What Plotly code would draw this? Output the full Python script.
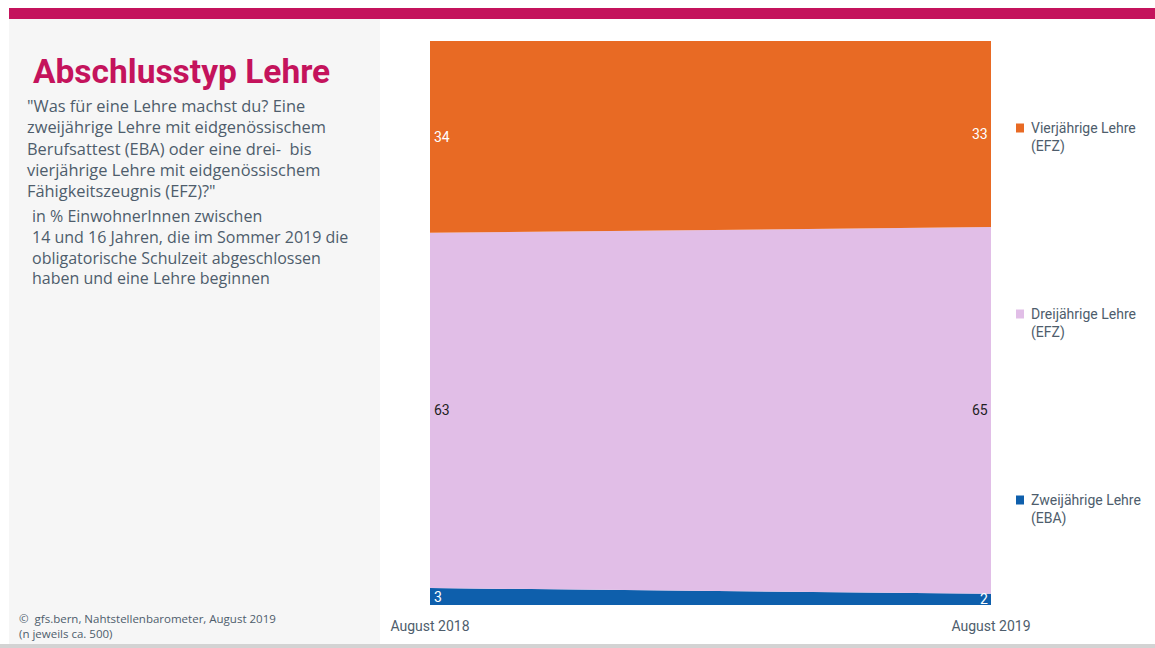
import plotly.graph_objects as go

# Survey waves and shares (in %)
waves = ["August 2018", "August 2019"]
series_names = ["Zweijährige Lehre<br>(EBA)", "Dreijährige Lehre<br>(EFZ)", "Vierjährige Lehre<br>(EFZ)"]
eba = [3, 2]
efz3 = [63, 65]
efz4 = [34, 33]
series_values = [eba, efz3, efz4]
series_colors = ["#0E5FAC", "#E1BEE7", "#E86A24"]
label_colors = ["#FFFFFF", "#1F1F1F", "#FFFFFF"]

W, H = 1155, 648
PL, PR, PT, PB = 430, 991, 41, 605  # plot area in pixels
TEXT = "#4E5D6C"
MAGENTA = "#C4135C"
FONT = "Roboto, 'Noto Sans', sans-serif"
BODY = "'Open Sans', 'Noto Sans', sans-serif"


def px(x):
    return (x - PL) / (PR - PL)


def py(y):
    return (PB - y) / (PB - PT)


fig = go.Figure()
for name, vals, col in zip(series_names, series_values, series_colors):
    fig.add_trace(go.Scatter(
        x=waves, y=vals, name=name, mode="lines", stackgroup="one",
        line=dict(width=0, color=col), fillcolor=col, showlegend=False,
        hoverinfo="x+y+name",
    ))

annotations = []
# value labels centred in each band at both edges
base = [0, 0]
for vals, lc in zip(series_values, label_colors):
    for i, (x, v) in enumerate(zip(waves, vals)):
        annotations.append(dict(
            x=x, y=base[i] + v / 2, xref="x", yref="y", text=str(v),
            showarrow=False, font=dict(size=14, color=lc, family=FONT),
            xanchor="left" if i == 0 else "right", xshift=2 if i == 0 else -1,
        ))
    base = [b + v for b, v in zip(base, vals)]

shapes = [
    # left info panel
    dict(type="rect", xref="paper", yref="paper", x0=px(9), x1=px(380), y0=py(645), y1=py(19),
         fillcolor="#F6F6F6", line=dict(width=0), layer="below"),
    # top accent bar
    dict(type="rect", xref="paper", yref="paper", x0=px(9), x1=px(1155), y0=py(19), y1=py(8),
         fillcolor=MAGENTA, line=dict(width=0)),
    # bottom rule
    dict(type="rect", xref="paper", yref="paper", x0=px(0), x1=px(1155), y0=py(648), y1=py(644),
         fillcolor="#D3D3D3", line=dict(width=0)),
]

# custom legend, each entry level with its band
legend_y = [500, 314, 128]
for name, col, ly in zip(series_names, series_colors, legend_y):
    shapes.append(dict(type="rect", xref="paper", yref="paper", x0=px(1016), x1=px(1024),
                       y0=py(ly + 4.5), y1=py(ly - 4.5), fillcolor=col, line=dict(width=0)))
    annotations.append(dict(x=px(1029), y=py(ly - 10), xref="paper", yref="paper", text=name,
                            showarrow=False, xanchor="left", yanchor="top", align="left",
                            font=dict(size=14, color=TEXT, family=FONT)))

annotations += [
    dict(x=px(31), y=py(71), xref="paper", yref="paper", text="<b>Abschlusstyp Lehre</b>",
         showarrow=False, xanchor="left", yanchor="middle",
         font=dict(size=33.5, color=MAGENTA, family=FONT)),
    dict(x=px(25), y=py(148.5), xref="paper", yref="paper",
         text='"Was für eine Lehre machst du? Eine<br>zweijährige Lehre mit eidgenössischem<br>'
              'Berufsattest (EBA) oder eine drei-  bis<br>vierjährige Lehre mit eidgenössischem<br>'
              'Fähigkeitszeugnis (EFZ)?"',
         showarrow=False, xanchor="left", yanchor="middle", align="left",
         font=dict(size=16.4, color=TEXT, family=BODY)),
    dict(x=px(30), y=py(247), xref="paper", yref="paper",
         text="in % EinwohnerInnen zwischen<br>14 und 16 Jahren, die im Sommer 2019 die<br>"
              "obligatorische Schulzeit abgeschlossen<br>haben und eine Lehre beginnen",
         showarrow=False, xanchor="left", yanchor="middle", align="left",
         font=dict(size=16, color=TEXT, family=BODY)),
    dict(x=px(17), y=py(625.5), xref="paper", yref="paper",
         text="©  gfs.bern, Nahtstellenbarometer, August 2019<br>(n jeweils ca. 500)",
         showarrow=False, xanchor="left", yanchor="middle", align="left",
         font=dict(size=11.5, color=TEXT, family=BODY)),
]

fig.update_layout(
    width=W, height=H,
    margin=dict(l=PL, r=W - PR, t=PT, b=H - PB, autoexpand=False),
    paper_bgcolor="white", plot_bgcolor="white",
    font=dict(family=FONT, color=TEXT),
    xaxis=dict(type="category", range=[0, 1], showgrid=False, zeroline=False, showline=False,
               automargin=False, ticks="outside", ticklen=8, tickcolor="rgba(0,0,0,0)",
               tickfont=dict(size=14, color=TEXT, family=FONT), fixedrange=True),
    yaxis=dict(range=[0, 100], visible=False, fixedrange=True, automargin=False),
    shapes=shapes, annotations=annotations,
)

fig.write_html("out.html")
